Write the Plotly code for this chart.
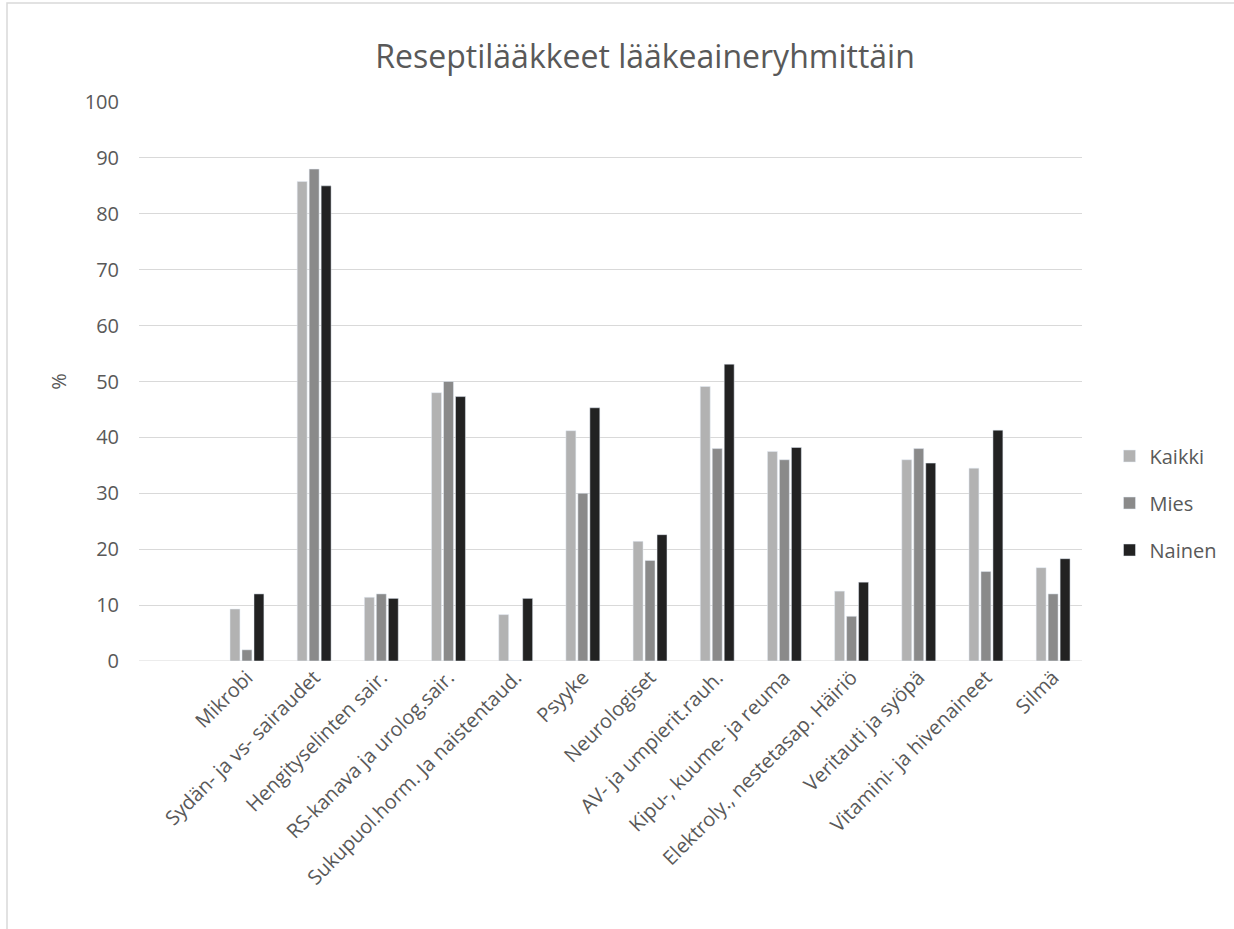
import plotly.graph_objects as go

categories = [
    "Mikrobi",
    "Sydän- ja vs- sairaudet",
    "Hengityselinten sair.",
    "RS-kanava ja urolog.sair.",
    "Sukupuol.horm. Ja naistentaud.",
    "Psyyke",
    "Neurologiset",
    "AV- ja umpierit.rauh.",
    "Kipu-, kuume- ja reuma",
    "Elektroly., nestetasap. Häiriö",
    "Veritauti ja syöpä",
    "Vitamini- ja hivenaineet",
    "Silmä",
]
kaikki = [9.3, 85.8, 11.4, 48.0, 8.3, 41.2, 21.4, 49.1, 37.5, 12.5, 36.0, 34.5, 16.7]
mies = [2.0, 88.0, 12.0, 50.0, 0.0, 30.0, 18.0, 38.0, 36.0, 8.0, 38.0, 16.0, 12.0]
nainen = [12.0, 85.0, 11.2, 47.3, 11.2, 45.3, 22.6, 53.1, 38.2, 14.1, 35.4, 41.3, 18.3]
series_names = ["Kaikki", "Mies", "Nainen"]
colors = ["#b2b2b2", "#8a8a8a", "#222222"]
y_ticks = list(range(0, 101, 10))

FONT = "Open Sans"
TXT = "#595959"

W, H = 1234, 929
PL, PR, PT, PB = 139, 1082, 102, 661
L, R, T, B = PL, W - PR, PT, H - PB

fig = go.Figure()
for name, vals, col in zip(series_names, [kaikki, mies, nainen], colors):
    fig.add_trace(go.Bar(
        x=categories, y=vals, name=name, marker_color=col,
        legendgroup=name,
    ))

fig.update_layout(
    width=W, height=H,
    margin=dict(l=L, r=R, t=T, b=B, autoexpand=False),
    paper_bgcolor="white", plot_bgcolor="white",
    barmode="group", bargap=0.465, bargroupgap=0.17,
    font=dict(family=FONT, color=TXT, size=20),
    title=dict(text="Reseptilääkkeet lääkeaineryhmittäin",
               font=dict(family=FONT, size=32, color=TXT),
               x=645 / W, xref="container", xanchor="center",
               y=1 - 57 / H, yref="container", yanchor="middle"),
    legend=dict(x=(1109.5 - PL) / (PR - PL), xanchor="left",
                y=(PB - 503) / (PB - PT), yanchor="middle",
                font=dict(size=20, color=TXT), tracegroupgap=18,
                bgcolor="rgba(0,0,0,0)"),
    showlegend=True,
)
fig.update_xaxes(
    type="category", range=[-1.607, 12.43], tickangle=-45,
    showgrid=False, showline=False, ticks="",
    tickfont=dict(family=FONT, size=20, color=TXT),
)
fig.update_yaxes(
    range=[0, 100], tickvals=y_ticks, showgrid=True, gridcolor="#d9d9d9",
    gridwidth=1, zeroline=False, showline=False, ticks="",
    ticklabelstandoff=19,
    tickfont=dict(family=FONT, size=20, color=TXT),
    title=dict(text="%", font=dict(family=FONT, size=20, color=TXT), standoff=12),
)
# baseline at 0
fig.add_shape(type="line", xref="paper", yref="y", x0=0, x1=1, y0=0, y1=0,
              line=dict(color="#d9d9d9", width=1), layer="below")
# chart area border
fig.add_shape(type="rect", xref="paper", yref="paper",
              x0=(7 - PL) / (PR - PL), x1=1.5,
              y0=-1.0, y1=(PB - 3) / (PB - PT),
              line=dict(color="#d9d9d9", width=1.5), layer="below")

fig.write_html("out.html")
